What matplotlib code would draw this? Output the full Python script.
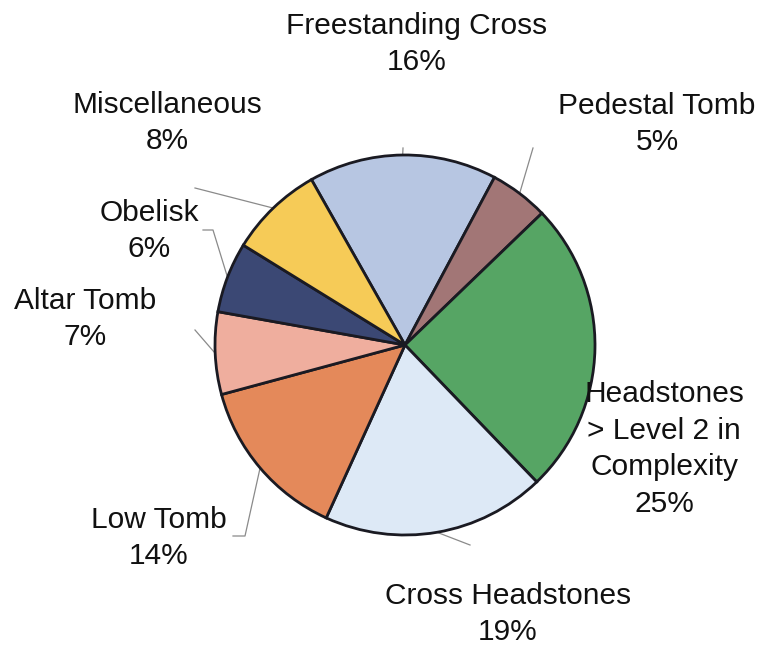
import numpy as np
import matplotlib
matplotlib.use("Agg")
import matplotlib.pyplot as plt

# slice data (clockwise from the top)
categories = ["Freestanding Cross", "Pedestal Tomb", "Headstones\n> Level 2 in\nComplexity",
              "Cross Headstones", "Low Tomb", "Altar Tomb", "Obelisk", "Miscellaneous"]
percents = [16, 5, 25, 19, 14, 7, 6, 8]
slice_colors = ["#b7c6e2", "#a27676", "#56a564", "#dde9f6", "#e4895a", "#efae9e", "#3b4874", "#f6cb57"]

W, H = 764, 646
fig = plt.figure(figsize=(W / 100, H / 100), dpi=100)
ax = fig.add_axes([0, 0, 1, 1])


def py(y):
    # image pixel row -> data y
    return H - y


cx, cy, rad = 405, py(345), 190
start = 119.5
wedges, _ = ax.pie(percents, colors=slice_colors, startangle=start, counterclock=False,
                   center=(cx, cy), radius=rad, frame=True,
                   wedgeprops=dict(edgecolor="#1a1a22", linewidth=2.0))
ax.set_xlim(0, W)
ax.set_ylim(0, H)
ax.axis('off')

# label placement (text centre, line start, optional elbow) in pixel coords
label_pos = {
    0: ((417, 44), (403, 148), None),
    1: ((657, 124), (533, 148), None),
    2: ((664, 449), None, None),
    3: ((508, 614), (470, 545), None),
    4: ((159, 538), (233, 536), (245, 536)),
    5: ((85, 319), (195, 330), None),
    6: ((149, 231), (203, 230), (213, 230)),
    7: ((167, 123), (195, 188), None),
}

for i, w in enumerate(wedges):
    (tx, ty), p0, elbow = label_pos[i]
    ax.text(tx, py(ty), f"{categories[i]}\n{percents[i]}%", ha='center', va='center',
            fontsize=21.5, family='Liberation Sans', color='#111111', linespacing=1.4)
    if p0 is None:
        continue
    mid = np.deg2rad((w.theta1 + w.theta2) / 2)
    ex, ey = cx + rad * np.cos(mid), cy + rad * np.sin(mid)
    xs, ys = [p0[0]], [py(p0[1])]
    if elbow is not None:
        xs.append(elbow[0])
        ys.append(py(elbow[1]))
    xs.append(ex)
    ys.append(ey)
    ax.plot(xs, ys, color='#8a8a8a', lw=0.9, zorder=0)

fig.savefig("out.png", dpi=100)
